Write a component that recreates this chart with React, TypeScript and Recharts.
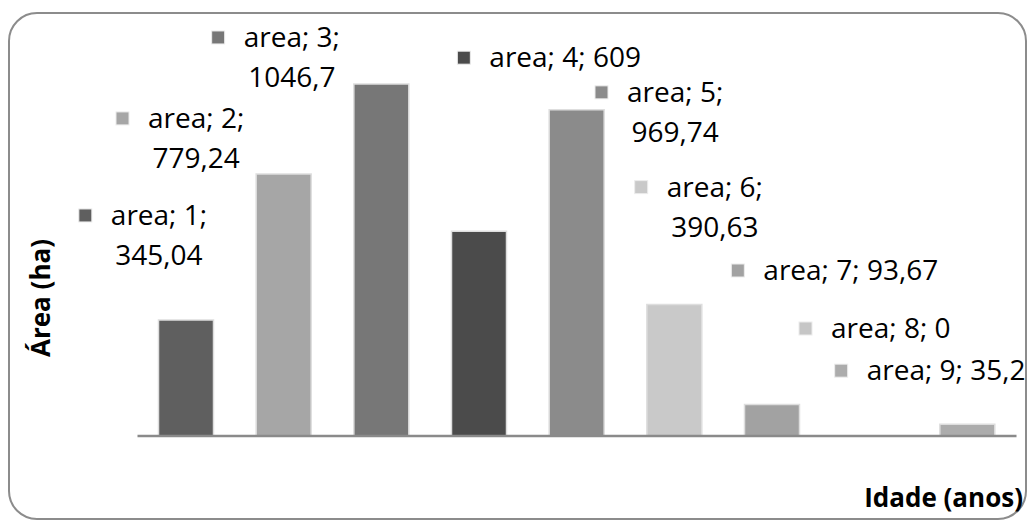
import React from "react";
import { ComposedChart, Bar, Line, XAxis, YAxis, Cell } from "recharts";

const seriesName = "area";
const categories = [1, 2, 3, 4, 5, 6, 7, 8, 9];
const areaValues = [345.04, 779.24, 1046.7, 609, 969.74, 390.63, 93.67, 0, 35.2];
const barColors = ["#5f5f5f", "#a6a6a6", "#777777", "#4b4b4b", "#8b8b8b", "#c9c9c9", "#a2a2a2", "#c6c6c6", "#acacac"];
const yAxisTitle = "Área (ha)";
const xAxisTitle = "Idade (anos)";

// label placement relative to the bar's center / top (layout only)
const labelLayout = [
  { dx: -75.5, dy: -95, wrap: true },
  { dx: -136, dy: -46, wrap: true },
  { dx: -138, dy: -37, wrap: true },
  { dx: 10, dy: -164, wrap: false },
  { dx: 50, dy: -8, wrap: true },
  { dx: -8, dy: -108, wrap: true },
  { dx: -9, dy: -124.5, wrap: false },
  { dx: -39, dy: -98, wrap: false },
  { dx: -101, dy: -44, wrap: false },
];

const data = categories.map((c, i) => ({ cat: c, area: areaValues[i] }));

const FONT = "'Open Sans', sans-serif";
const LABEL_SIZE = 28;

const fmt = (v: number) => String(v).replace(".", ",");

let ctx: CanvasRenderingContext2D | null = null;
function measure(s: string): number {
  if (!ctx && typeof document !== "undefined") {
    ctx = document.createElement("canvas").getContext("2d");
  }
  if (!ctx) return s.length * LABEL_SIZE * 0.45;
  ctx.font = `${LABEL_SIZE}px 'Open Sans'`;
  return ctx.measureText(s).width;
}

function DataLabelDot(props: any) {
  const { cx, cy, index, value } = props;
  const i = index as number;
  if (cx == null || cy == null || i == null) return null;
  const lay = labelLayout[i];
  const tx = Number(cx) + lay.dx;
  const by = Number(cy) + lay.dy;
  const cat = categories[i];
  const v = Array.isArray(value) ? value[1] : value;
  const line1 = lay.wrap ? `${seriesName}; ${cat};` : `${seriesName}; ${cat}; ${fmt(v)}`;
  const w1 = measure(line1);
  return (
    <g key={`lbl-${i}`}>
      <rect x={tx - 32} y={by - 16} width={13} height={13} fill={barColors[i]} stroke="#ececec" strokeWidth={1} />
      <text x={tx} y={by} fontSize={LABEL_SIZE} fontFamily={FONT} fill="#000">
        {line1}
      </text>
      {lay.wrap && (
        <text x={tx + w1 / 2} y={by + 40} fontSize={LABEL_SIZE} fontFamily={FONT} fill="#000" textAnchor="middle">
          {fmt(v)}
        </text>
      )}
    </g>
  );
}

export default function App() {
  const W = 1019;
  const H = 514;
  return (
    <div style={{ position: "relative", width: W, height: H, fontFamily: FONT }}>
      <style>{`html{overflow:hidden}`}</style>
      <ComposedChart
        width={W}
        height={H}
        data={data}
        margin={{ top: 24.4, right: 10.5, bottom: 85, left: 129.5 }}
        barCategoryGap={0}
      >
        <XAxis
          dataKey="cat"
          height={1}
          tick={false}
          tickLine={false}
          axisLine={{ stroke: "#8a8a8a", strokeWidth: 2.5 }}
        />
        <YAxis hide domain={[0, 1200]} />
        <Bar dataKey="area" barSize={55} isAnimationActive={false} stroke="#dedede" strokeWidth={1.5}>
          {data.map((d, i) => (
            <Cell key={i} fill={barColors[i]} />
          ))}
        </Bar>
        <Line
          dataKey="area"
          stroke="none"
          dot={<DataLabelDot />}
          activeDot={false}
          legendType="none"
          isAnimationActive={false}
        />
      </ComposedChart>
      <svg
        width={W}
        height={H}
        style={{ position: "absolute", left: 0, top: 0, pointerEvents: "none" }}
      >
        <rect x={1} y={5} width={1017} height={506} rx={28} ry={28} fill="none" stroke="#8c8c8c" strokeWidth={2} />
        <text
          x={32}
          y={290}
          transform="rotate(-90 32 290)"
          textAnchor="middle"
          dominantBaseline="central"
          fontSize={26}
          fontWeight="bold"
          fontFamily={FONT}
          fill="#000"
        >
          {yAxisTitle}
        </text>
        <text x={1015} y={499} textAnchor="end" fontSize={26} fontWeight="bold" fontFamily={FONT} fill="#000">
          {xAxisTitle}
        </text>
      </svg>
    </div>
  );
}
